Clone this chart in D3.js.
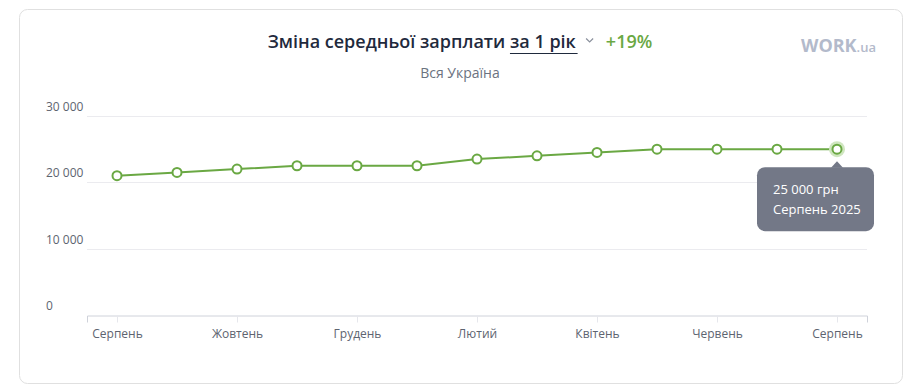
<!DOCTYPE html>
<html>
<head>
<meta charset="utf-8">
<script src="https://cdn.jsdelivr.net/npm/d3@7"></script>
<style>
  body { margin: 0; background: #fff; font-family: "Open Sans", "Noto Sans", sans-serif; }
</style>
</head>
<body>
<div id="chart"></div>
<script>
// data
var months = ["Серпень","Вересень","Жовтень","Листопад","Грудень","Січень","Лютий",
              "Березень","Квітень","Травень","Червень","Липень","Серпень "];
var salaries = [21000, 21500, 22000, 22500, 22500, 22500, 23500, 24000, 24500, 25000, 25000, 25000, 25000];
var yTicks = [0, 10000, 20000, 30000];
var xTickLabels = ["Серпень","Жовтень","Грудень","Лютий","Квітень","Червень","Серпень "];
var titleText = "Зміна середньої зарплати ";
var periodText = "за 1 рік";
var changeText = "+19%";
var regionText = "Вся Україна";
var tooltipLines = ["25 000 грн", "Серпень 2025"];

var width = 919, height = 389;
var margin = { top: 116, left: 87 };
var green = "#6aa843";

var svg = d3.select("#chart").append("svg")
  .attr("width", width)
  .attr("height", height);

// card
svg.append("rect")
  .attr("x", 19.5).attr("y", 9.5)
  .attr("width", 883).attr("height", 374)
  .attr("rx", 8).attr("ry", 8)
  .style("fill", "#fff")
  .style("stroke", "#e0e0e0");

// title
var title = svg.append("text")
  .attr("x", 460).attr("y", 48)
  .attr("text-anchor", "middle")
  .style("font-size", "18px")
  .style("font-weight", "600");
title.append("tspan").attr("fill", "#1f2a3d").text(titleText);
title.append("tspan").attr("fill", "#1f2a3d").attr("class", "period").text(periodText);
title.append("tspan").attr("fill", green).attr("dx", 30).attr("class", "chg").text(changeText);

var pBox = title.select(".period").node().getBBox();
svg.append("line")
  .attr("x1", pBox.x).attr("x2", pBox.x + pBox.width + 1)
  .attr("y1", 53.5).attr("y2", 53.5)
  .style("stroke", "#1f2a3d").style("stroke-width", 1);

// chevron
var cx0 = pBox.x + pBox.width + 13;
svg.append("path")
  .attr("d", "M" + (cx0 - 3.5) + ",38.5L" + cx0 + ",42L" + (cx0 + 3.5) + ",38.5")
  .style("fill", "none")
  .style("stroke", "#8a909c")
  .style("stroke-width", 1.2);

svg.append("text")
  .attr("x", 460).attr("y", 78)
  .attr("text-anchor", "middle")
  .style("font-size", "14px")
  .style("fill", "#6b7280")
  .text(regionText);

// logo
var logo = svg.append("text")
  .attr("x", 801).attr("y", 52)
  .style("fill", "#b3bacb")
  .style("font-weight", "700");
logo.append("tspan").style("font-size", "18px").text("WORK");
logo.append("tspan").style("font-size", "13px").style("font-weight", "600").text(".ua");

var g = svg.append("g")
  .attr("transform", "translate(" + margin.left + "," + margin.top + ")");

var plotH = 315 - margin.top;

var x = d3.scalePoint().domain(months).range([0, 780]).padding(0.5);
var y = d3.scaleLinear().domain([0, 30000]).range([plotH, 0]);

// grid
g.selectAll(".grid").data(yTicks.filter(function(d){ return d > 0; })).enter()
  .append("line")
  .attr("x1", 0).attr("x2", 780)
  .attr("y1", function(d){ return Math.round(y(d)) + 0.5; })
  .attr("y2", function(d){ return Math.round(y(d)) + 0.5; })
  .style("stroke", "#ebebef");

// y labels
g.selectAll(".ylab").data(yTicks).enter()
  .append("text")
  .attr("x", -41)
  .attr("y", function(d){ return y(d) - 5; })
  .style("font-size", "12px")
  .style("fill", "#5d6470")
  .text(function(d){ return d === 0 ? "0" : d3.format(",")(d).replace(/,/g, " "); });

// x axis
var xAxis = d3.axisBottom(x)
  .tickValues(xTickLabels)
  .tickSize(7)
  .tickPadding(7);
var ax = g.append("g")
  .attr("transform", "translate(0," + (plotH + 0.5) + ")")
  .call(xAxis);
ax.select(".domain").style("stroke", "#cfd2da");
ax.selectAll(".tick line").style("stroke", "#e6e7ec");
ax.selectAll(".tick text")
  .style("font-size", "12px")
  .style("font-family", "'Open Sans', 'Noto Sans', sans-serif")
  .style("fill", "#5d6470")
  .text(function(d){ return d.trim(); });

// line
var line = d3.line()
  .x(function(d, i){ return x(months[i]); })
  .y(function(d){ return y(d); });
g.append("path")
  .datum(salaries)
  .attr("d", line)
  .style("fill", "none")
  .style("stroke", green)
  .style("stroke-width", 2);

// highlight halo on last point
var last = salaries.length - 1;
g.append("circle")
  .attr("cx", x(months[last])).attr("cy", y(salaries[last]))
  .attr("r", 8)
  .style("fill", "#cfe6bf");

g.selectAll(".pt").data(salaries).enter()
  .append("circle")
  .attr("cx", function(d, i){ return x(months[i]); })
  .attr("cy", function(d){ return y(d); })
  .attr("r", 4.5)
  .style("fill", "#fff")
  .style("stroke", green)
  .style("stroke-width", 2);

// tooltip
var tx = x(months[last]), ty = y(salaries[last]);
var tw = 117, th = 64, tLeft = tx - 80, tTop = ty + 18;
var tip = g.append("g");
tip.append("rect")
  .attr("x", tLeft).attr("y", tTop)
  .attr("width", tw).attr("height", th)
  .attr("rx", 8).attr("ry", 8)
  .style("fill", "#737887");
tip.append("path")
  .attr("d", "M" + (tx - 6) + "," + (tTop + 0.5) + "L" + tx + "," + (tTop - 6) + "L" + (tx + 6) + "," + (tTop + 0.5) + "Z")
  .style("fill", "#737887");
tip.selectAll("text").data(tooltipLines).enter()
  .append("text")
  .attr("x", tLeft + 16)
  .attr("y", function(d, i){ return tTop + 27 + i * 20; })
  .style("font-size", "13px")
  .style("fill", "#fff")
  .text(function(d){ return d; });
</script>
</body>
</html>
